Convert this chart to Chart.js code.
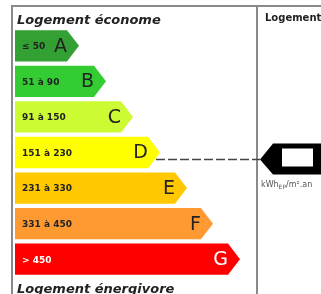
<!DOCTYPE html>
<html><head><meta charset="utf-8">
<script src="https://cdn.jsdelivr.net/npm/chart.js@4"></script>
<style>html,body{margin:0;padding:0;background:#fff;overflow:hidden}canvas{display:block}</style>
</head><body>
<canvas id="c" width="321" height="294"></canvas>
<script>
// ---- data ----
const classes = ['A', 'B', 'C', 'D', 'E', 'F', 'G'];
const ranges = ['≤ 50', '51 à 90', '91 à 150', '151 à 230', '231 à 330', '331 à 450', '> 450'];
const arrowLengths = [64, 91, 118, 145, 172, 198, 225];
const currentClass = 'D';
const titleTop = 'Logement économe';
const titleBottom = 'Logement énergivore';
const panelTitle = 'Logement';
const unitMain = 'kWh';
const unitSub = 'EP';
const unitTail = '/m².an';

// ---- styles ----
const colors = ['#33a033', '#33cc33', '#ccfa33', '#ffff00', '#ffc800', '#ff9a33', '#ff0000'];
const textColors = ['#222', '#222', '#222', '#222', '#222', '#222', '#fff'];
const FONT = '"DejaVu Sans", sans-serif';
const TIP = 12;

const dpePlugin = {
  id: 'dpe',
  beforeDraw(chart) {
    const ctx = chart.ctx;
    ctx.save();
    ctx.fillStyle = '#fff';
    ctx.fillRect(0, 0, chart.width, chart.height);
    ctx.strokeStyle = '#8a8a8a';
    ctx.lineWidth = 2;
    ctx.beginPath();
    ctx.moveTo(11, 6); ctx.lineTo(321, 6);
    ctx.moveTo(12, 6); ctx.lineTo(12, 294);
    ctx.moveTo(257, 6); ctx.lineTo(257, 294);
    ctx.stroke();
    ctx.fillStyle = '#222';
    ctx.font = 'italic bold 13px ' + FONT;
    ctx.textBaseline = 'alphabetic';
    ctx.textAlign = 'left';
    ctx.fillText(titleTop, 17, 24);
    ctx.fillText(titleBottom, 17, 293);
    ctx.font = 'bold 10px ' + FONT;
    ctx.fillText(panelTitle, 265, 21);
    ctx.restore();
  },
  beforeDatasetsDraw(chart) {
    const ctx = chart.ctx;
    const meta = chart.getDatasetMeta(0);
    ctx.save();
    meta.data.forEach((bar, i) => {
      const p = bar.getProps(['x', 'y', 'base', 'height'], true);
      const top = p.y - p.height / 2, bot = p.y + p.height / 2;
      ctx.beginPath();
      ctx.moveTo(p.base, top);
      ctx.lineTo(p.x - TIP, top);
      ctx.lineTo(p.x, p.y);
      ctx.lineTo(p.x - TIP, bot);
      ctx.lineTo(p.base, bot);
      ctx.closePath();
      ctx.fillStyle = colors[i];
      ctx.fill();
      ctx.fillStyle = textColors[i];
      ctx.textBaseline = 'middle';
      ctx.textAlign = 'left';
      ctx.font = 'bold 9px ' + FONT;
      ctx.fillText(ranges[i], p.base + 7, p.y + 1);
      ctx.textAlign = 'right';
      ctx.font = '19px ' + FONT;
      ctx.fillText(classes[i], p.x - 12, p.y + 1);
    });
    // current class marker
    const idx = classes.indexOf(currentClass);
    const b = meta.data[idx].getProps(['x', 'y'], true);
    const ly = b.y + 7;
    ctx.strokeStyle = '#444';
    ctx.lineWidth = 1.5;
    ctx.setLineDash([9, 3]);
    ctx.beginPath();
    ctx.moveTo(b.x - 4, ly);
    ctx.lineTo(260, ly);
    ctx.stroke();
    ctx.setLineDash([]);
    ctx.fillStyle = '#000';
    ctx.beginPath();
    ctx.moveTo(260, ly);
    ctx.lineTo(273, ly - 16);
    ctx.lineTo(330, ly - 16);
    ctx.lineTo(330, ly + 15);
    ctx.lineTo(273, ly + 15);
    ctx.closePath();
    ctx.fill();
    ctx.fillStyle = '#fff';
    ctx.fillRect(282, ly - 11, 31, 18);
    // unit
    ctx.fillStyle = '#555';
    ctx.textAlign = 'left';
    ctx.textBaseline = 'alphabetic';
    ctx.font = '8px ' + FONT;
    let ux = 261;
    const uy = ly + 27;
    ctx.fillText(unitMain, ux, uy); ux += ctx.measureText(unitMain).width;
    ctx.font = '6px ' + FONT;
    ctx.fillText(unitSub, ux, uy + 2); ux += ctx.measureText(unitSub).width;
    ctx.font = '8px ' + FONT;
    ctx.fillText(unitTail, ux, uy);
    ctx.restore();
    return false;
  }
};

new Chart(document.getElementById('c'), {
  type: 'bar',
  data: {
    labels: classes,
    datasets: [{
      data: arrowLengths,
      backgroundColor: colors,
      borderWidth: 0,
      barPercentage: 0.88,
      categoryPercentage: 1
    }]
  },
  options: {
    indexAxis: 'y',
    responsive: false,
    animation: false,
    devicePixelRatio: 1,
    layout: { padding: { left: 15, right: 0, top: 28, bottom: 17 } },
    scales: {
      x: { display: false, min: 0, max: 306 },
      y: { display: false }
    },
    plugins: { legend: { display: false }, tooltip: { enabled: false } }
  },
  plugins: [dpePlugin]
});
</script>
</body></html>
